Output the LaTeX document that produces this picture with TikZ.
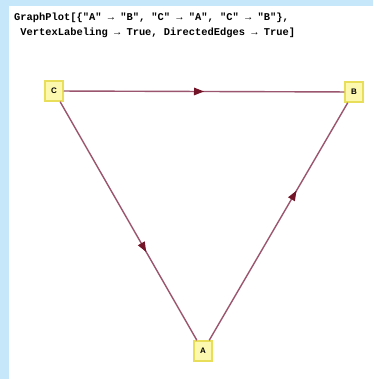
\documentclass[tikz,border=0pt]{standalone}
\usepackage{fontspec}
\setmonofont{Liberation Mono}
\newfontfamily\labelfont{Liberation Sans}
\usetikzlibrary{arrows.meta,decorations.markings}

\definecolor{panelblue}{RGB}{198,230,250}
\definecolor{edgered}{RGB}{155,85,110}
\definecolor{tipred}{RGB}{115,20,40}
\definecolor{vfill}{RGB}{252,248,176}
\definecolor{vdraw}{RGB}{232,222,90}

\tikzset{
  vertex/.style={draw=vdraw, fill=vfill, line width=1.5pt, minimum width=18pt,
    minimum height=20pt, inner sep=0pt, font=\labelfont\bfseries\fontsize{8}{9}\selectfont},
  code/.style={anchor=base west, inner sep=0pt, font=\ttfamily\bfseries\fontsize{10.4}{12}\selectfont},
  diredge/.style={draw=edgered, line width=1.4pt, postaction={decorate},
    decoration={markings, mark=at position #1 with {\arrow[tipred]{Triangle[length=10pt,width=7.5pt]}}}},
  diredge/.default=0.5
}

\begin{document}
\begin{tikzpicture}[x=1pt,y=-1pt]

% background and panel
\fill[panelblue] (0,0) rectangle (373,379);
\fill[white] (9,6) rectangle (373,379);
\useasboundingbox (0,0) rectangle (373,379);

% input cell
\node[code] (line1) at (14,21) {GraphPlot[\{"A" → "B", "C" → "A", "C" → "B"\},};
\node[code] (line2) at (14,36) {\ VertexLabeling → True, DirectedEdges → True]};

% vertices
\node[vertex] (C) at (54,91) {C};
\node[vertex] (B) at (354,92) {B};
\node[vertex] (A) at (203,351) {A};

% edges
\draw[diredge=0.5] (C) -- (B);
\draw[diredge=0.63] (C) -- (A);
\draw[diredge=0.63] (A) -- (B);

\end{tikzpicture}
\end{document}
